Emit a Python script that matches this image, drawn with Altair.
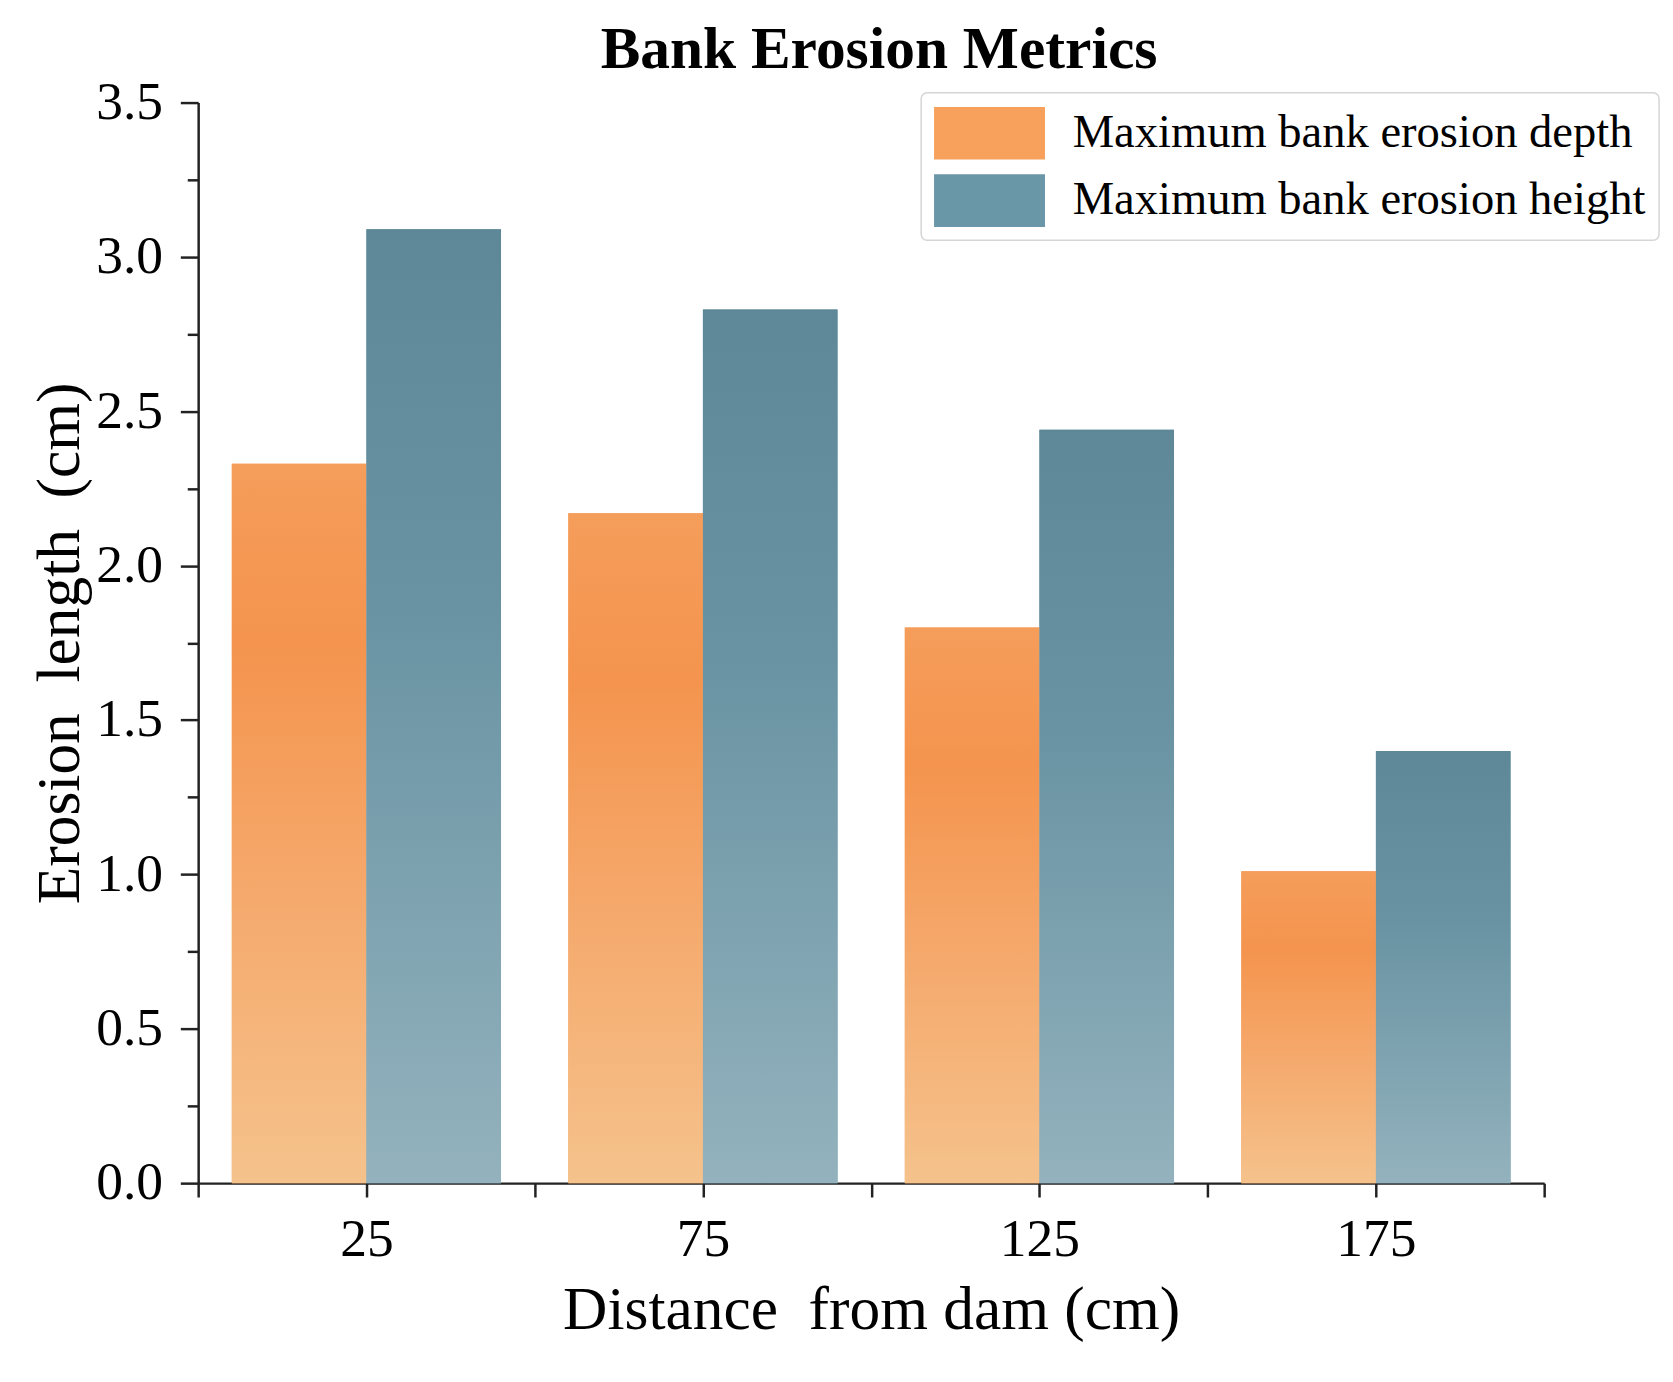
import altair as alt
import pandas as pd

# ---- data ----
distances = [25, 75, 125, 175]
depth_vals = [2.33, 2.17, 1.80, 1.01]
height_vals = [3.09, 2.83, 2.44, 1.40]
series_names = ["Maximum bank erosion depth", "Maximum bank erosion height"]
x_tick_values = [0, 25, 50, 75, 100, 125, 150, 175, 200]
y_tick_values = [0, 0.25, 0.5, 0.75, 1.0, 1.25, 1.5, 1.75, 2.0, 2.25, 2.5, 2.75, 3.0, 3.25, 3.5]

BAR_W = 20  # bar width in distance units
FONT = "Liberation Serif"

rows = []
for d, a, b in zip(distances, depth_vals, height_vals):
    rows.append({"distance": d, "series": series_names[0], "value": a})
    rows.append({"distance": d, "series": series_names[1], "value": b})
df = pd.DataFrame(rows)

GRAD_ORANGE = {
    "gradient": "linear", "x1": 0, "y1": 0, "x2": 0, "y2": 1,
    "stops": [
        {"offset": 0.0, "color": "#F59D5B"},
        {"offset": 0.25, "color": "#F4944E"},
        {"offset": 0.55, "color": "#F5A668"},
        {"offset": 1.0, "color": "#F5C28C"},
    ],
}
GRAD_BLUE = {
    "gradient": "linear", "x1": 0, "y1": 0, "x2": 0, "y2": 1,
    "stops": [
        {"offset": 0.0, "color": "#5E8898"},
        {"offset": 0.4, "color": "#6993A3"},
        {"offset": 1.0, "color": "#93B2BD"},
    ],
}

base = alt.Chart(df).transform_calculate(
    x0=f"datum.distance - (datum.series == '{series_names[0]}' ? {BAR_W} : 0)",
    x1=f"datum.distance + (datum.series == '{series_names[0]}' ? 0 : {BAR_W})",
).encode(
    x=alt.X(
        "x0:Q",
        scale=alt.Scale(domain=[0, 200], nice=False, zero=True),
        title="Distance\u00a0 from dam (cm)",
        axis=alt.Axis(
            values=x_tick_values,
            labelExpr="(datum.value - 25) % 50 == 0 ? '' + datum.value : ''",
            tickSize=14,
            labelPadding=16,
            labelFont=FONT, labelFontSize=54, labelColor="black",
            titleFont=FONT, titleFontSize=62, titleFontWeight="normal",
            titleColor="black", titlePadding=14,
            domainColor="#222", domainWidth=2.5,
            tickColor="#222", tickWidth=2.5, grid=False,
            labelFlush=False, labelOverlap=False,
        ),
    ),
    x2="x1:Q",
    y=alt.Y(
        "value:Q",
        stack=False,
        scale=alt.Scale(domain=[0, 3.5], nice=False),
        title="Erosion\u00a0 length\u00a0 (cm)",
        axis=alt.Axis(
            values=y_tick_values,
            labelExpr="datum.value % 0.5 == 0 ? format(datum.value, '.1f') : ''",
            tickSize={"condition": {"test": "datum.value % 0.5 == 0", "value": 18}, "value": 11},
            labelPadding=18,
            labelFont=FONT, labelFontSize=54, labelColor="black",
            titleFont=FONT, titleFontSize=62, titleFontWeight="normal",
            titleColor="black", titlePadding=4,
            domainColor="#222", domainWidth=2.5,
            tickColor="#222", tickWidth=2.5, grid=False,
            labelFlush=False, labelOverlap=False,
        ),
    ),
    y2=alt.datum(0),
)

solid = base.mark_bar().encode(
    color=alt.Color(
        "series:N",
        scale=alt.Scale(domain=series_names, range=["#F7A15C", "#6A97A8"]),
        legend=alt.Legend(
            title=None,
            orient="none",
            legendX=730,
            legendY=-10,
            symbolType="M-2,-0.95H2V0.95H-2Z",
            symbolSize=3136,
            symbolOffset=28,
            symbolOpacity=1,
            symbolStrokeWidth=0,
            labelOffset=56,
            labelFont=FONT,
            labelFontSize=47,
            labelColor="black",
            labelLimit=1000,
            rowPadding=13,
            padding=13,
            strokeColor="#d5d5d5",
            cornerRadius=6,
            fillColor="white",
        ),
    )
)

grad = base.mark_bar().encode(
    fill=alt.condition(
        alt.datum.series == series_names[0],
        alt.value(GRAD_ORANGE),
        alt.value(GRAD_BLUE),
    )
)

chart = alt.layer(solid, grad).properties(
    width=1359,
    height=1091,
    padding={"left": 21, "top": 6, "right": 5, "bottom": 5},
    title=alt.Title(
        "Bank Erosion Metrics",
        font=FONT, fontSize=60, fontWeight="bold", color="black",
        anchor="middle", frame="group", offset=-5, dx=8,
    ),
    background="white",
).configure_view(strokeOpacity=0).configure_legend(strokeWidth=1.5)

chart.save("out.html", embed_options={"renderer": "svg", "actions": False})
